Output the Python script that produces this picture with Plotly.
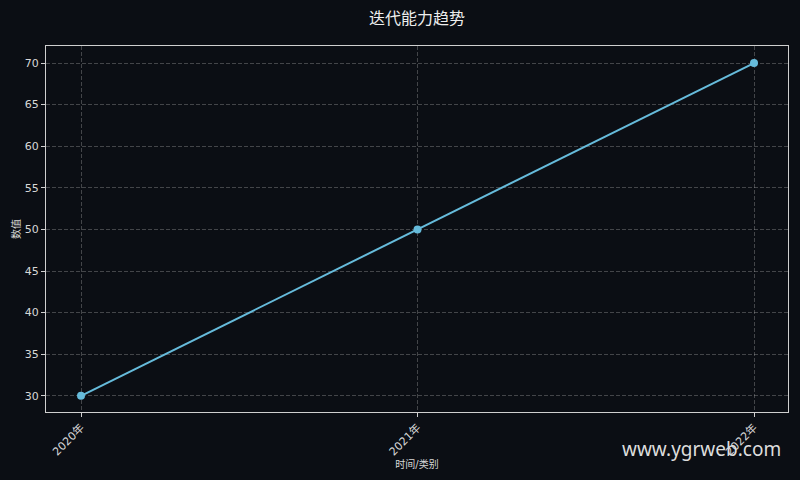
import plotly.graph_objects as go

categories = ["2020年", "2021年", "2022年"]
values = [30, 50, 70]
y_ticks = [30, 35, 40, 45, 50, 55, 60, 65, 70]

BG = "#0b0e14"
FG = "#d8d8d8"
LINE = "#66bbdb"
FONT = "DejaVu Sans, Noto Sans CJK SC, sans-serif"

fig = go.Figure()
fig.add_trace(go.Scatter(
    x=list(range(len(categories))), y=values, mode="lines+markers",
    line=dict(color=LINE, width=2),
    marker=dict(color=LINE, size=8),
    showlegend=False,
))

axis_common = dict(
    showline=True, linecolor="#cfcfcf", linewidth=1, mirror=True,
    showgrid=True, gridcolor="rgba(200,200,200,0.3)", griddash="4px,2px", gridwidth=1,
    ticks="outside", ticklen=4, tickcolor="#cfcfcf",
    tickfont=dict(family=FONT, size=11, color=FG),
    zeroline=False, automargin=False,
)

fig.update_layout(
    width=800, height=480,
    paper_bgcolor=BG, plot_bgcolor=BG,
    margin=dict(l=46, r=12, t=46, b=68),
    title=dict(text="迭代能力趋势", xref="paper", x=0.5, xanchor="center", y=0.962, yanchor="middle",
               font=dict(family=FONT, size=16, color="#eeeeee")),
    xaxis=dict(**axis_common, range=[-0.104, 2.101],
               tickmode="array", tickvals=list(range(len(categories))), ticktext=categories,
               tickangle=-45,
               title=dict(text="时间/类别", font=dict(family=FONT, size=10, color=FG), standoff=1)),
    yaxis=dict(**axis_common, range=[28.05, 72.05],
               tickmode="array", tickvals=y_ticks,
               title=dict(text="数值", font=dict(family=FONT, size=10, color=FG), standoff=2)),
    annotations=[dict(text="www.ygrweb.com", xref="paper", yref="paper",
                      x=0.993, y=-0.1, xanchor="right", yanchor="middle", showarrow=False,
                      font=dict(family="Noto Sans, sans-serif", size=19, color="#dddddd"))],
)

fig.write_html(
    "out.html",
    config={"displayModeBar": False},
    post_script="document.body.style.margin='0';document.body.style.background='#0b0e14';",
)
